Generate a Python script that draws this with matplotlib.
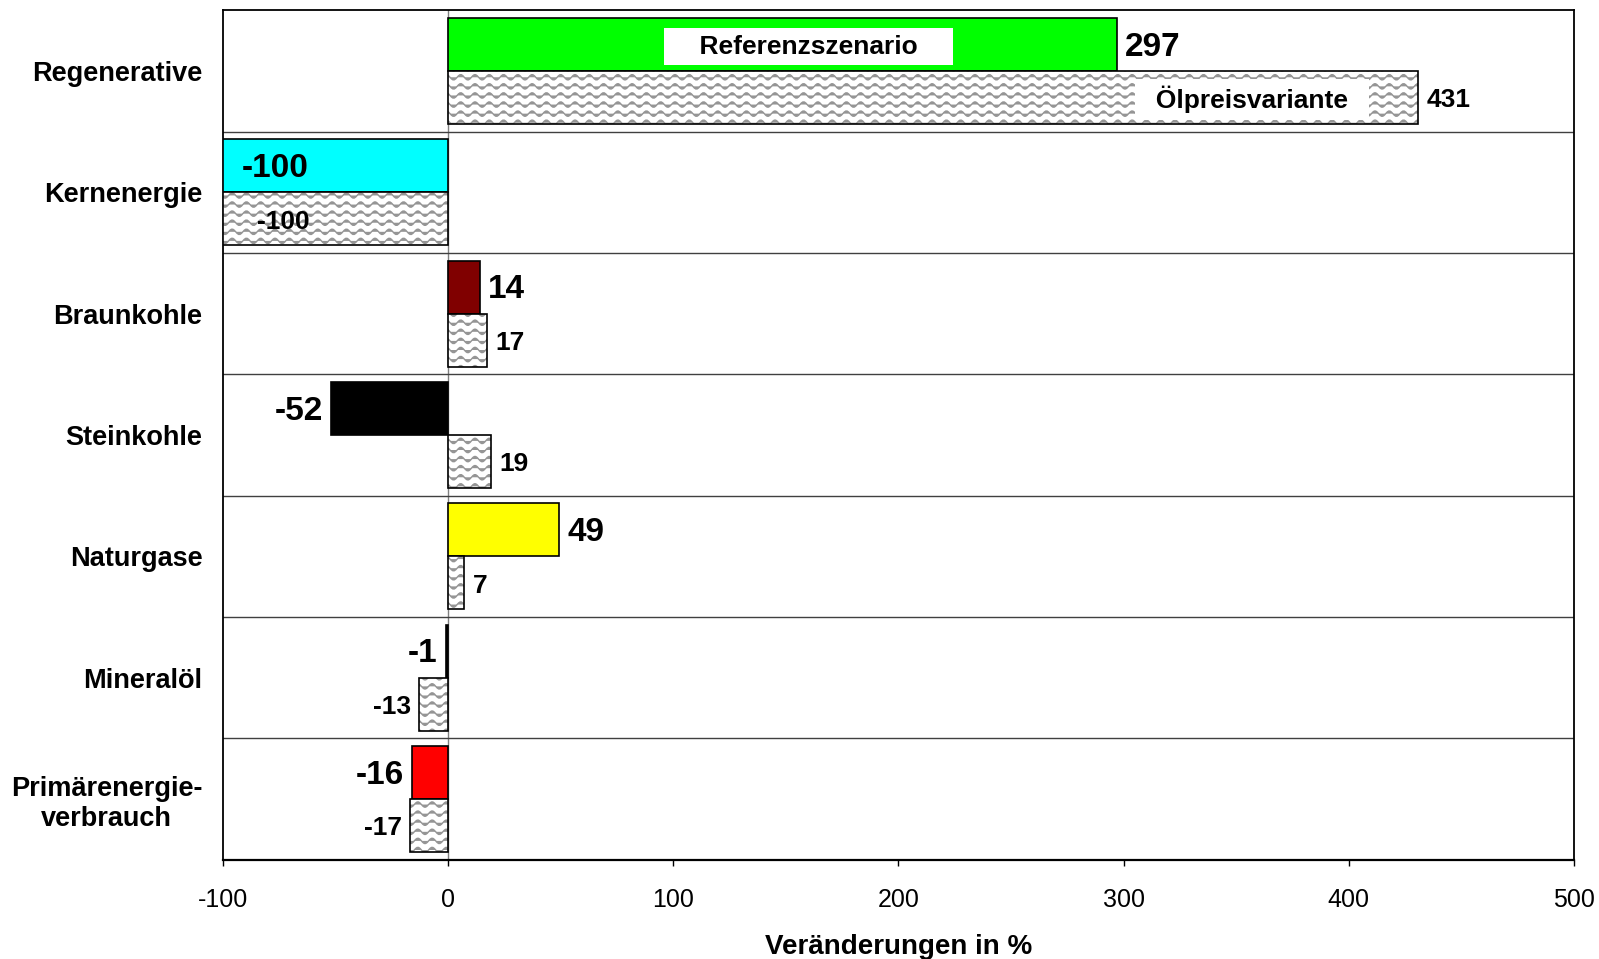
import warnings
warnings.filterwarnings("ignore")
import numpy as np
import matplotlib
matplotlib.use("Agg")
import matplotlib.pyplot as plt
import matplotlib.hatch as mhatch
from matplotlib.path import Path

# ---------------- data ----------------
categories = ["Regenerative", "Kernenergie", "Braunkohle", "Steinkohle",
              "Naturgase", "Mineralöl", "Primärenergie-\nverbrauch"]
ref_values = [297, -100, 14, -52, 49, -1, -16]
oil_values = [431, -100, 17, 19, 7, -13, -17]
ref_colors = ["#00FF00", "#00FFFF", "#800000", "#000000", "#FFFF00", "#000000", "#FF0000"]
series_names = ["Referenzszenario", "Ölpreisvariante"]
x_ticks = [-100, 0, 100, 200, 300, 400, 500]
x_label = "Veränderungen in %"


# ---------------- wavy hatch ----------------
class WaveHatch(mhatch.HatchPatternBase):
    def __init__(self, hatch, density):
        n = hatch.count("~")
        self.nrows = 11 * n
        self.nper = 7
        self.pts = self.nper * 10 + 1
        self.num_vertices = self.nrows * self.pts

    def set_vertices_and_codes(self, vertices, codes):
        x = np.linspace(0.0, 1.0, self.pts)
        for i in range(self.nrows):
            y0 = (i + 0.5) / self.nrows
            sl = slice(i * self.pts, (i + 1) * self.pts)
            vertices[sl, 0] = x
            vertices[sl, 1] = y0 + 0.027 * np.sin(2 * np.pi * self.nper * x)
            codes[sl] = Path.LINETO
            codes[i * self.pts] = Path.MOVETO


mhatch._hatch_types.append(WaveHatch)

plt.rcParams["font.family"] = ["Liberation Sans", "DejaVu Sans"]
plt.rcParams["hatch.linewidth"] = 1.0

fig = plt.figure(figsize=(15.99, 9.59), dpi=100)
ax = fig.add_axes([0.1397, 0.1035, 0.8444, 0.8858])

pos = np.arange(len(categories))
h = 0.437

# zero line and row separators
ax.axvline(0, color="#808080", lw=1.0, zorder=1)
for b in pos[:-1] + 0.5:
    ax.axhline(b, color="#404040", lw=1.0, zorder=1)

# reference bars
ax.barh(pos - h / 2, ref_values, height=h, color=ref_colors,
        edgecolor="black", linewidth=1.2, zorder=3)
# oil price variant bars: hatch then outline
ax.barh(pos + h / 2, oil_values, height=h, color="white",
        edgecolor="#959595", linewidth=0, hatch="~", zorder=3)
ax.barh(pos + h / 2, oil_values, height=h, fill=False,
        edgecolor="black", linewidth=1.2, zorder=4)

ax.set_xlim(-100, 500)
ax.set_ylim(len(categories) - 0.5, -0.5)
xmin = ax.get_xlim()[0]


def put_label(v, y, size, inside_off):
    if v <= xmin:
        off, ha = inside_off, "left"
    elif v < 0:
        off, ha = -6, "right"
    else:
        off, ha = 6, "left"
    ax.annotate(str(v), (v, y), xytext=(off, -2), textcoords="offset points",
                ha=ha, va="center", fontsize=size, fontweight="bold", zorder=6)


for i, (r, o) in enumerate(zip(ref_values, oil_values)):
    put_label(r, pos[i] - h / 2, 24, 13)
    put_label(o, pos[i] + h / 2, 19, 24)

# series name boxes inside the first pair of bars
ax.annotate("    " + series_names[0] + "    ", (160, pos[0] - h / 2), xytext=(0, -1.5),
            textcoords="offset points", ha="center", va="center",
            fontsize=19, fontweight="bold", zorder=6,
            bbox=dict(boxstyle="square,pad=0.24", facecolor="white", edgecolor="none"))
ax.annotate("  " + series_names[1] + "  ", (357, pos[0] + h / 2), xytext=(0, -1.5),
            textcoords="offset points", ha="center", va="center",
            fontsize=19, fontweight="bold", zorder=6,
            bbox=dict(boxstyle="square,pad=0.24", facecolor="white", edgecolor="none"))

# axes styling
ax.set_xticks(x_ticks)
ax.set_xticklabels([str(t) for t in x_ticks])
ax.set_yticks(pos)
ax.set_yticklabels(categories)
for t in ax.get_yticklabels():
    t.set_fontweight("bold")
    t.set_fontsize(19.5)
    t.set_multialignment("center")
ax.tick_params(axis="x", direction="out", length=4.5, width=1.0, pad=16, labelsize=18)
ax.tick_params(axis="y", length=0, pad=15)
for s in ax.spines.values():
    s.set_linewidth(1.3)
    s.set_color("black")
ax.spines["bottom"].set_linewidth(1.6)

ax.set_xlabel(x_label, fontsize=20, fontweight="bold", labelpad=16)

fig.savefig("out.png", dpi=100)
